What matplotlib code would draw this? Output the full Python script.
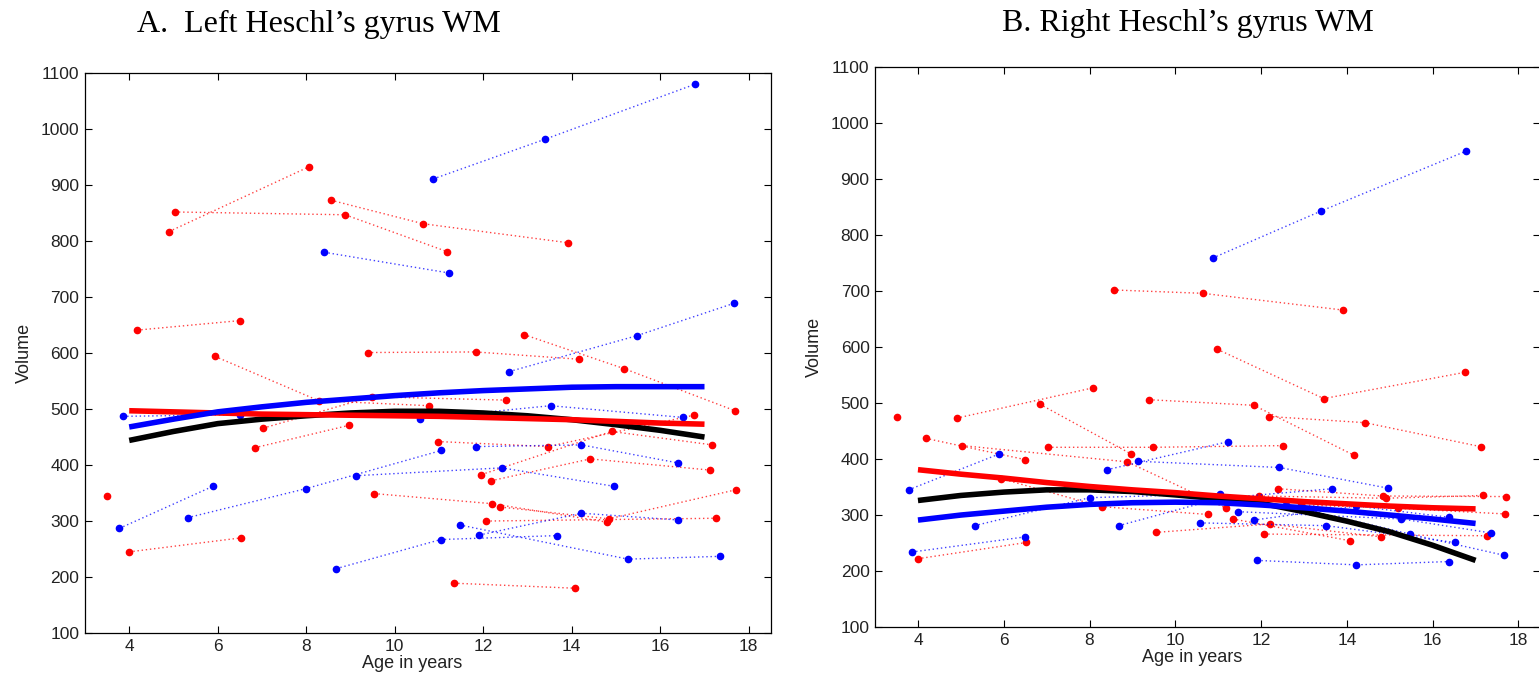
import numpy as np
import matplotlib
matplotlib.use('Agg')
import matplotlib.pyplot as plt

plt.rcParams['font.family'] = 'Liberation Sans'
plt.rcParams['axes.unicode_minus'] = False

# ages of each subject's scans (same subjects in both panels)
red_ages = [
    [3.50],
    [4.18, 6.50],
    [4.90, 8.07],
    [5.03, 8.88, 11.19],
    [8.56, 10.64, 13.92],
    [9.39, 11.83, 14.16],
    [12.92, 15.19, 17.69],
    [5.94, 8.28, 10.77],
    [7.03, 9.48, 12.51],
    [6.84, 8.97],
    [10.98, 13.46, 16.76],
    [11.96, 14.90, 17.18],
    [12.18, 14.42, 17.13],
    [9.54, 12.20, 14.80],
    [12.39, 14.84, 17.72],
    [12.07, 17.26],
    [11.34, 14.08],
    [4.00, 6.53],
]
left_red_vol = [
    [345], [641, 658], [817, 933], [852, 847, 781], [873, 831, 797],
    [601, 602, 589], [633, 572, 497], [594, 515, 506], [466, 522, 516],
    [431, 471], [442, 433, 489], [383, 460, 436], [372, 411, 391],
    [349, 331, 298], [325, 304, 356], [300, 305], [189, 180], [245, 270],
]
right_red_vol = [
    [476], [437, 399], [473, 527], [424, 395, 312], [702, 696, 666],
    [506, 496, 407], [318, 312, 302], [365, 315, 301], [421, 421, 424],
    [498, 409], [596, 508, 555], [334, 330, 335], [476, 465, 422],
    [269, 284, 261], [347, 334, 333], [266, 263], [293, 254], [222, 251],
]

blue_ages = [
    [10.87, 13.40, 16.78],
    [8.41, 11.23],
    [12.59, 15.47, 17.67],
    [3.86, 6.50],
    [10.58, 13.52, 16.52],
    [3.78, 5.89],
    [5.32, 8.00, 11.05],
    [9.12, 12.42, 14.96],
    [11.83, 14.22, 16.39],
    [8.68, 11.04, 13.66],
    [11.47, 15.27, 17.36],
    [11.91, 14.22, 16.39],
]
left_blue_vol = [
    [911, 982, 1080], [780, 743], [567, 631, 689], [487, 490],
    [483, 506, 485], [287, 362], [306, 358, 426], [381, 395, 362],
    [433, 436, 404], [215, 267, 274], [293, 232, 237], [275, 314, 302],
]
right_blue_vol = [
    [759, 843, 950], [381, 431], [318, 266, 228], [234, 261],
    [286, 281, 251], [345, 409], [281, 331, 338], [396, 385, 348],
    [291, 316, 296], [281, 330, 347], [306, 293, 268], [219, 211, 217],
]

# fitted trajectories
fit_age = [4, 5, 6, 7, 8, 9, 10, 11, 12, 13, 14, 15, 16, 17]
left_black = [444, 460, 474, 482, 488, 493, 496, 496, 493, 488, 481, 472, 462, 450]
left_blue = [468, 482, 495, 504, 512, 518, 524, 529, 533, 536, 539, 540, 540, 540]
left_red = [497, 495, 493, 491, 490, 489, 488, 487, 485, 483, 481, 478, 475, 473]
right_black = [326, 335, 341, 345, 345, 342, 336, 329, 321, 306, 289, 270, 246, 219]
right_blue = [291, 300, 307, 314, 319, 322, 323, 322, 318, 313, 307, 300, 293, 285]
right_red = [381, 373, 366, 358, 351, 345, 340, 334, 329, 324, 320, 316, 313, 311]

titles = ["A.  Left Heschl\u2019s gyrus WM", "B. Right Heschl\u2019s gyrus WM"]

fig = plt.figure(figsize=(15.39, 6.82), dpi=100)
ax_l = fig.add_axes([0.0552, 0.0718, 0.4457, 0.821])
ax_r = fig.add_axes([0.5686, 0.0806, 0.432, 0.821])

panels = [
    (ax_l, left_red_vol, left_blue_vol, left_black, left_red, left_blue),
    (ax_r, right_red_vol, right_blue_vol, right_black, right_red, right_blue),
]

for ax, rv, bv, k_fit, r_fit, b_fit in panels:
    for ages, vols in zip(red_ages, rv):
        ax.plot(ages, vols, color='#ff0000', ls=(0, (1, 2)), lw=1.0, alpha=0.75)
        ax.plot(ages, vols, 'o', ms=4.5, color='#ff0000')
    for ages, vols in zip(blue_ages, bv):
        ax.plot(ages, vols, color='#0000ff', ls=(0, (1, 2)), lw=1.0, alpha=0.75)
        ax.plot(ages, vols, 'o', ms=4.5, color='#0000ff')
    ax.plot(fit_age, k_fit, color='black', lw=4, solid_capstyle='butt')
    ax.plot(fit_age, r_fit, color='#ff0000', lw=4, solid_capstyle='butt')
    ax.plot(fit_age, b_fit, color='#0000ff', lw=4, solid_capstyle='butt')

    ax.set_xlim(3, 18.5)
    ax.set_ylim(100, 1100)
    ax.set_xticks(range(4, 19, 2))
    ax.set_yticks(range(100, 1101, 100))
    ax.tick_params(direction='in', top=True, right=True, length=5,
                   width=0.8, labelsize=12.5, pad=4, labelcolor='#222222')
    for s in ax.spines.values():
        s.set_linewidth(0.9)
    ax.set_xlabel('Age in years', fontsize=13, labelpad=1, color='#222222')
    ax.xaxis.label.set_x(0.477)
    ax.set_ylabel('Volume', fontsize=13, labelpad=6, color='#222222')

fig.text(319 / 1539, 1 - 24 / 682, titles[0], ha='center', va='center',
         fontsize=23, family='Liberation Serif')
fig.text(1188 / 1539, 1 - 24 / 682, titles[1], ha='center', va='center',
         fontsize=23, family='Liberation Serif')

fig.savefig('out.png', dpi=100)
